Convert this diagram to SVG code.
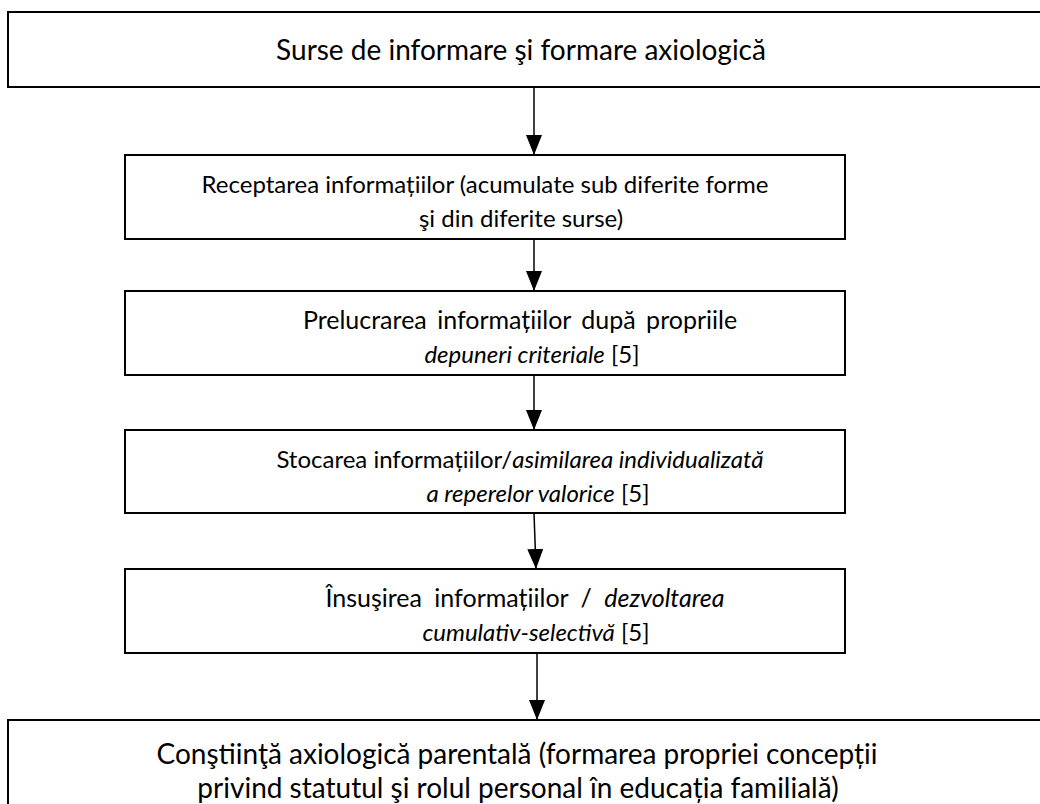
<svg xmlns="http://www.w3.org/2000/svg" width="1040" height="804" viewBox="0 0 1040 804">
<defs>
<style>
.box{fill:#fff;stroke:#000;stroke-width:2}
.t{font-family:Lato,"Liberation Sans",sans-serif;fill:#000;text-anchor:middle}
.big{font-size:28px}
.sm{font-size:24px}
.md{font-size:25px}
.i{font-style:italic}
.c{stroke:#000;stroke-width:1.5;fill:none}
</style>
<marker id="a" markerWidth="20" markerHeight="16" refX="20" refY="8" orient="auto" markerUnits="userSpaceOnUse" viewBox="0 0 20 16">
<path d="M0,0 L20,8 L0,16 Z" fill="#000"/>
</marker>
</defs>
<rect width="1040" height="804" fill="#fff"/>
<g id="connectors">
<line class="c" x1="534" y1="87" x2="534" y2="155" marker-end="url(#a)"/>
<line class="c" x1="534" y1="239" x2="534" y2="291" marker-end="url(#a)"/>
<line class="c" x1="534" y1="375" x2="534" y2="430" marker-end="url(#a)"/>
<line class="c" x1="534" y1="513" x2="536" y2="569" marker-end="url(#a)"/>
<line class="c" x1="537" y1="653" x2="537" y2="720" marker-end="url(#a)"/>
</g>
<g id="n0">
<rect class="box" x="8" y="12" width="1100" height="75"/>
<text class="t big" x="521" y="60">Surse de informare şi formare axiologică</text>
</g>
<g id="n1">
<rect class="box" x="125" y="155" width="720" height="84"/>
<text class="t sm" x="485" y="193">Receptarea informațiilor (acumulate sub diferite forme</text>
<text class="t sm" x="521" y="227">şi din diferite surse)</text>
</g>
<g id="n2">
<rect class="box" x="125" y="291" width="720" height="84"/>
<text class="t md" x="520" y="329" word-spacing="4">Prelucrarea informațiilor după propriile</text>
<text class="t sm" x="532" y="363"><tspan class="i">depuneri criteriale</tspan> [5]</text>
</g>
<g id="n3">
<rect class="box" x="125" y="430" width="720" height="83"/>
<text class="t sm" x="520" y="468">Stocarea informațiilor/<tspan class="i">asimilarea individualizată</tspan></text>
<text class="t sm" x="538" y="502"><tspan class="i">a reperelor valorice</tspan> [5]</text>
</g>
<g id="n4">
<rect class="box" x="125" y="569" width="720" height="84"/>
<text class="t md" x="525" y="607" word-spacing="6">Însuşirea informațiilor / <tspan class="i">dezvoltarea</tspan></text>
<text class="t sm" x="536" y="641"><tspan class="i">cumulativ-selectivă</tspan> [5]</text>
</g>
<g id="n5">
<rect class="box" x="8" y="720" width="1100" height="200"/>
<text class="t big" x="517" y="764">Conştiinţă axiologică parentală (formarea propriei concepții</text>
<text class="t big" x="518" y="798">privind statutul şi rolul personal în educația familială)</text>
</g>
</svg>
